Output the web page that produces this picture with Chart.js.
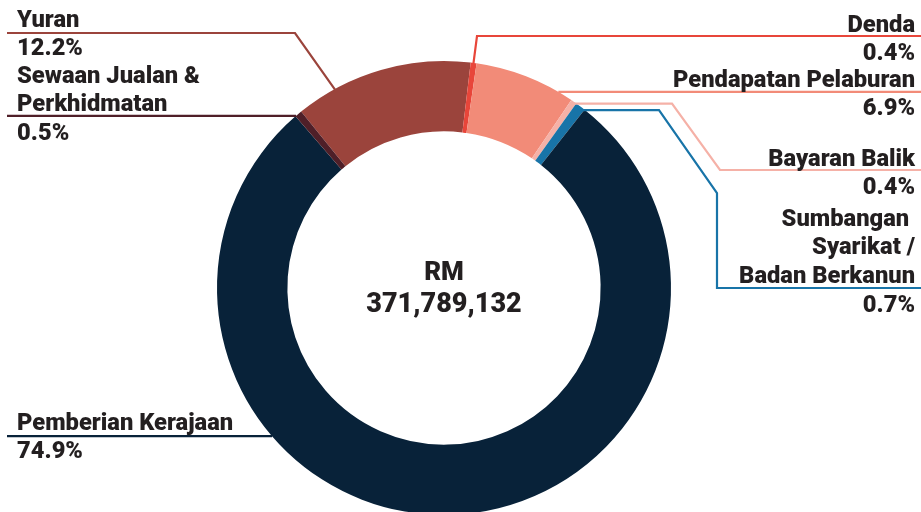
<!DOCTYPE html>
<html>
<head>
<meta charset="utf-8">
<title>Sumber Pendapatan</title>
<script src="https://cdn.jsdelivr.net/npm/chart.js@4/dist/chart.umd.min.js"></script>
<style>
  html, body { margin: 0; padding: 0; background: #fff; overflow: hidden; }
  #wrap { position: relative; width: 921px; height: 530px; }
</style>
</head>
<body>
<div id="wrap"><canvas id="pendapatan"></canvas></div>
<script>
// sumber pendapatan (peratus)
const kategori = [
  'Yuran',
  'Denda',
  'Pendapatan Pelaburan',
  'Bayaran Balik',
  ['Sumbangan ', 'Syarikat /', 'Badan Berkanun'],
  'Pemberian Kerajaan',
  ['Sewaan Jualan &', 'Perkhidmatan']
];
const peratus = [12.2, 0.4, 6.9, 0.4, 0.7, 74.9, 0.5];
const warna = ['#9b443c', '#e8463a', '#f28b78', '#f5b1a7', '#1874a8', '#082239', '#4f1f28'];
const jumlahRM = 371789132;

// kedudukan garis penunjuk dan label
const penunjuk = [
  { t: 0.225, r: 'outer', rf: 0.985, path: [[295, 33], [7, 33]], x: 17, align: 'left', y: 27 },
  { t: 0.5, r: 'inner', rf: 1.0, path: [[477, 36], [921, 36]], x: 915, align: 'right', y: 32 },
  { t: 0.85, r: 'outer', rf: 1.0, path: [[921, null]], x: 915, align: 'right', y: 87 },
  { t: 0.5, r: 'outer', rf: 0.99, path: [[672, null], [720, 170], [921, 170]], x: 915, align: 'right', y: 166 },
  { t: 0.77, r: 'outer', rf: 0.99, path: [[659, null], [717, 193], [717, 288], [921, 288]], x: 915, align: 'right', y: 226 },
  { t: 0.68, r: 'outer', rf: 1.0, path: [[7, null]], x: 17, align: 'left', y: 430 },
  { t: 0.1, r: 'outer', rf: 1.0, path: [[7, null]], x: 17, align: 'left', y: 83 }
];

const TEKS = '#231f20';
const FONT = '900 23.7px Roboto';
const LH = 28.4;

const labelPlugin = {
  id: 'labelPenunjuk',
  afterDraw(chart) {
    const ctx = chart.ctx;
    const arcs = chart.getDatasetMeta(0).data;
    ctx.save();
    ctx.lineJoin = 'miter';
    ctx.lineCap = 'butt';

    penunjuk.forEach((p, i) => {
      const arc = arcs[i];
      const a = arc.startAngle + p.t * (arc.endAngle - arc.startAngle);
      const rad = (p.r === 'inner' ? arc.innerRadius : arc.outerRadius) * p.rf;
      let px = arc.x + rad * Math.cos(a);
      let py = arc.y + rad * Math.sin(a);

      ctx.strokeStyle = warna[i];
      ctx.lineWidth = 2.2;
      ctx.beginPath();
      ctx.moveTo(px, py);
      p.path.forEach(([x, y]) => {
        px = x;
        py = y === null ? py : y;
        ctx.lineTo(px, py);
      });
      ctx.stroke();

      // nama kategori, kemudian peratus di bawah garis
      const lines = [].concat(kategori[i]);
      ctx.fillStyle = TEKS;
      ctx.font = FONT;
      ctx.textAlign = p.align;
      ctx.textBaseline = 'alphabetic';
      lines.forEach((s, k) => ctx.fillText(s, p.x, p.y + k * LH));
      const pyPct = p.y + lines.length * LH + (lines.length > 1 ? 0.6 : 0);
      ctx.fillText(peratus[i].toFixed(1) + '%', p.x, pyPct);
    });

    // jumlah di tengah donat
    const c = arcs[0];
    ctx.textAlign = 'center';
    ctx.fillStyle = TEKS;
    ctx.font = '900 26px Roboto';
    ctx.fillText('RM', c.x, 280);
    ctx.font = '900 27px Roboto';
    ctx.fillText(jumlahRM.toLocaleString('en-US'), c.x, 312);
    ctx.restore();
  }
};

new Chart('pendapatan', {
  type: 'doughnut',
  data: {
    labels: kategori,
    datasets: [{
      data: peratus,
      backgroundColor: warna,
      borderWidth: 0,
      hoverOffset: 0,
      offset: 0
    }]
  },
  options: {
    responsive: true,
    maintainAspectRatio: false,
    animation: false,
    events: [],
    rotation: -39,
    cutout: '69%',
    layout: {
      padding: { left: 217, right: 250, top: 61, bottom: 15 }
    },
    plugins: {
      legend: { display: false },
      tooltip: { enabled: false }
    }
  },
  plugins: [labelPlugin]
});
</script>
</body>
</html>
